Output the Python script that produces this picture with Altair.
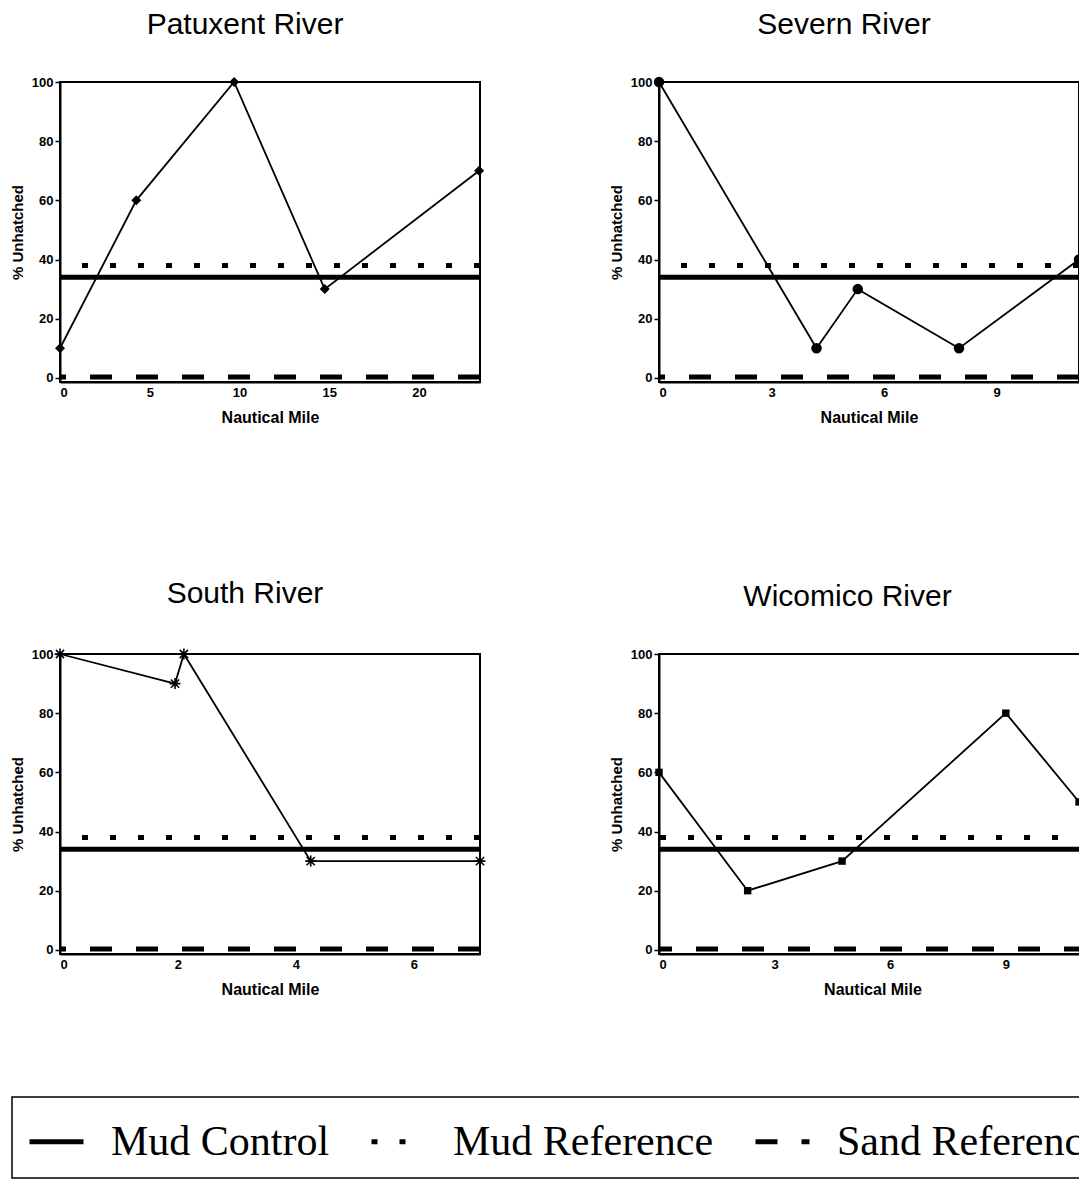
import altair as alt
import pandas as pd

# Reference treatments (horizontal lines) and their % unhatched levels
REF_SERIES = ["Mud Control", "Mud Reference", "Sand Reference"]
REF_LEVELS = [34, 38, 0.3]
REF_DASHES = [[1, 0], [6, 22], [22, 24]]

Y_TICKS = [0, 20, 40, 60, 80, 100]

# Station data: nautical mile vs. % unhatched
patuxent_mile = [0, 4.25, 9.7, 14.75, 23.35]
patuxent_pct = [10, 60, 100, 30, 70]

severn_mile = [0, 4.2, 5.3, 8.0, 11.2]
severn_pct = [100, 10, 30, 10, 40]

south_mile = [0, 1.95, 2.1, 4.25, 7.12]
south_pct = [100, 90, 100, 30, 30]

wicomico_mile = [0, 2.3, 4.75, 9.0, 10.9]
wicomico_pct = [60, 20, 30, 80, 50]

ASTERISK = "M-1,0L1,0M0,-1L0,1M-0.75,-0.75L0.75,0.75M-0.75,0.75L0.75,-0.75"

SANS = "Liberation Sans"
SERIF = "Liberation Serif"


def panel(name, miles, pct, xmax, xticks, shape, size, filled, width=420):
    stations = pd.DataFrame({"mile": miles, "pct": pct})
    refs = pd.DataFrame({"series": REF_SERIES, "pct": REF_LEVELS})

    yscale = alt.Scale(domain=[-1.4, 100], nice=False, zero=False)
    xscale = alt.Scale(domain=[0, xmax], nice=False, zero=False)

    y = alt.Y("pct:Q", scale=yscale,
              axis=alt.Axis(values=Y_TICKS, title="% Unhatched"))
    x = alt.X("mile:Q", scale=xscale,
              axis=alt.Axis(values=xticks, title="Nautical Mile"))

    ref = alt.Chart(refs).mark_rule(strokeWidth=5, color="black",
                                    strokeCap="butt").encode(
        y=y,
        strokeDash=alt.StrokeDash(
            "series:N",
            scale=alt.Scale(domain=REF_SERIES, range=REF_DASHES),
            legend=alt.Legend(title=None),
        ),
    )
    line = alt.Chart(stations).mark_line(color="black", strokeWidth=1.8).encode(
        x=x, y=y)
    if filled:
        pts = alt.Chart(stations).mark_point(
            shape=shape, size=size, filled=True, color="black", opacity=1)
    else:
        pts = alt.Chart(stations).mark_point(
            shape=shape, size=size, filled=False, color="black",
            strokeWidth=1.6, opacity=1)
    pts = pts.encode(x=x, y=y)

    return alt.layer(ref, line, pts).properties(
        width=width,
        height=300,
        title=alt.TitleParams(
            text=name, font=SANS, fontSize=30, fontWeight="normal",
            color="black", anchor="middle", dx=-25, offset=36,
        ),
    )


p1 = panel("Patuxent River", patuxent_mile, patuxent_pct, 23.4,
           [0, 5, 10, 15, 20], "diamond", 100, True)
p2 = panel("Severn River", severn_mile, severn_pct, 11.2,
           [0, 3, 6, 9], "circle", 110, True)
p3 = panel("South River", south_mile, south_pct, 7.12,
           [0, 2, 4, 6], ASTERISK, 120, False)
p4 = panel("Wicomico River", wicomico_mile, wicomico_pct, 11.08,
           [0, 3, 6, 9], "square", 55, True, width=427)

# Page is 1079 x 1182; the first plot's top-left corner sits at (60, 82)
chart = alt.concat(
    p1, p2, p3, p4, columns=2,
    spacing={"row": 272, "column": 179},
    bounds="flush",
).properties(
    autosize=alt.AutoSizeParams(type="none"),
    padding={"left": 60, "top": 82, "right": 1019, "bottom": 1100},
    background="white",
).configure_view(
    stroke="black", strokeWidth=2,
).configure_axis(
    grid=False,
    domainColor="black", domainWidth=2,
    tickColor="black", tickWidth=1.5,
    labelColor="black", labelFont=SANS, labelFontWeight="bold",
    labelFontSize=13,
    titleColor="black", titleFont=SANS, titleFontWeight="bold",
    titleFontSize=15,
).configure_axisX(
    tickSize=0, labelPadding=4, titlePadding=10, titleFontSize=16,
).configure_axisY(
    tickSize=5, labelPadding=2, titlePadding=6,
).configure_legend(
    orient="none", legendX=-48, legendY=1015,
    direction="horizontal",
    symbolType="stroke", symbolSize=2916, symbolStrokeWidth=5,
    symbolStrokeColor="black",
    labelFont=SERIF, labelFontSize=42, labelColor="black", labelLimit=1000,
    labelOffset=25, columnPadding=31,
    padding=15, strokeColor="black", strokeWidth=1.5, fillColor="white",
)

chart.save("out.html", embed_options={"renderer": "svg", "actions": False})
